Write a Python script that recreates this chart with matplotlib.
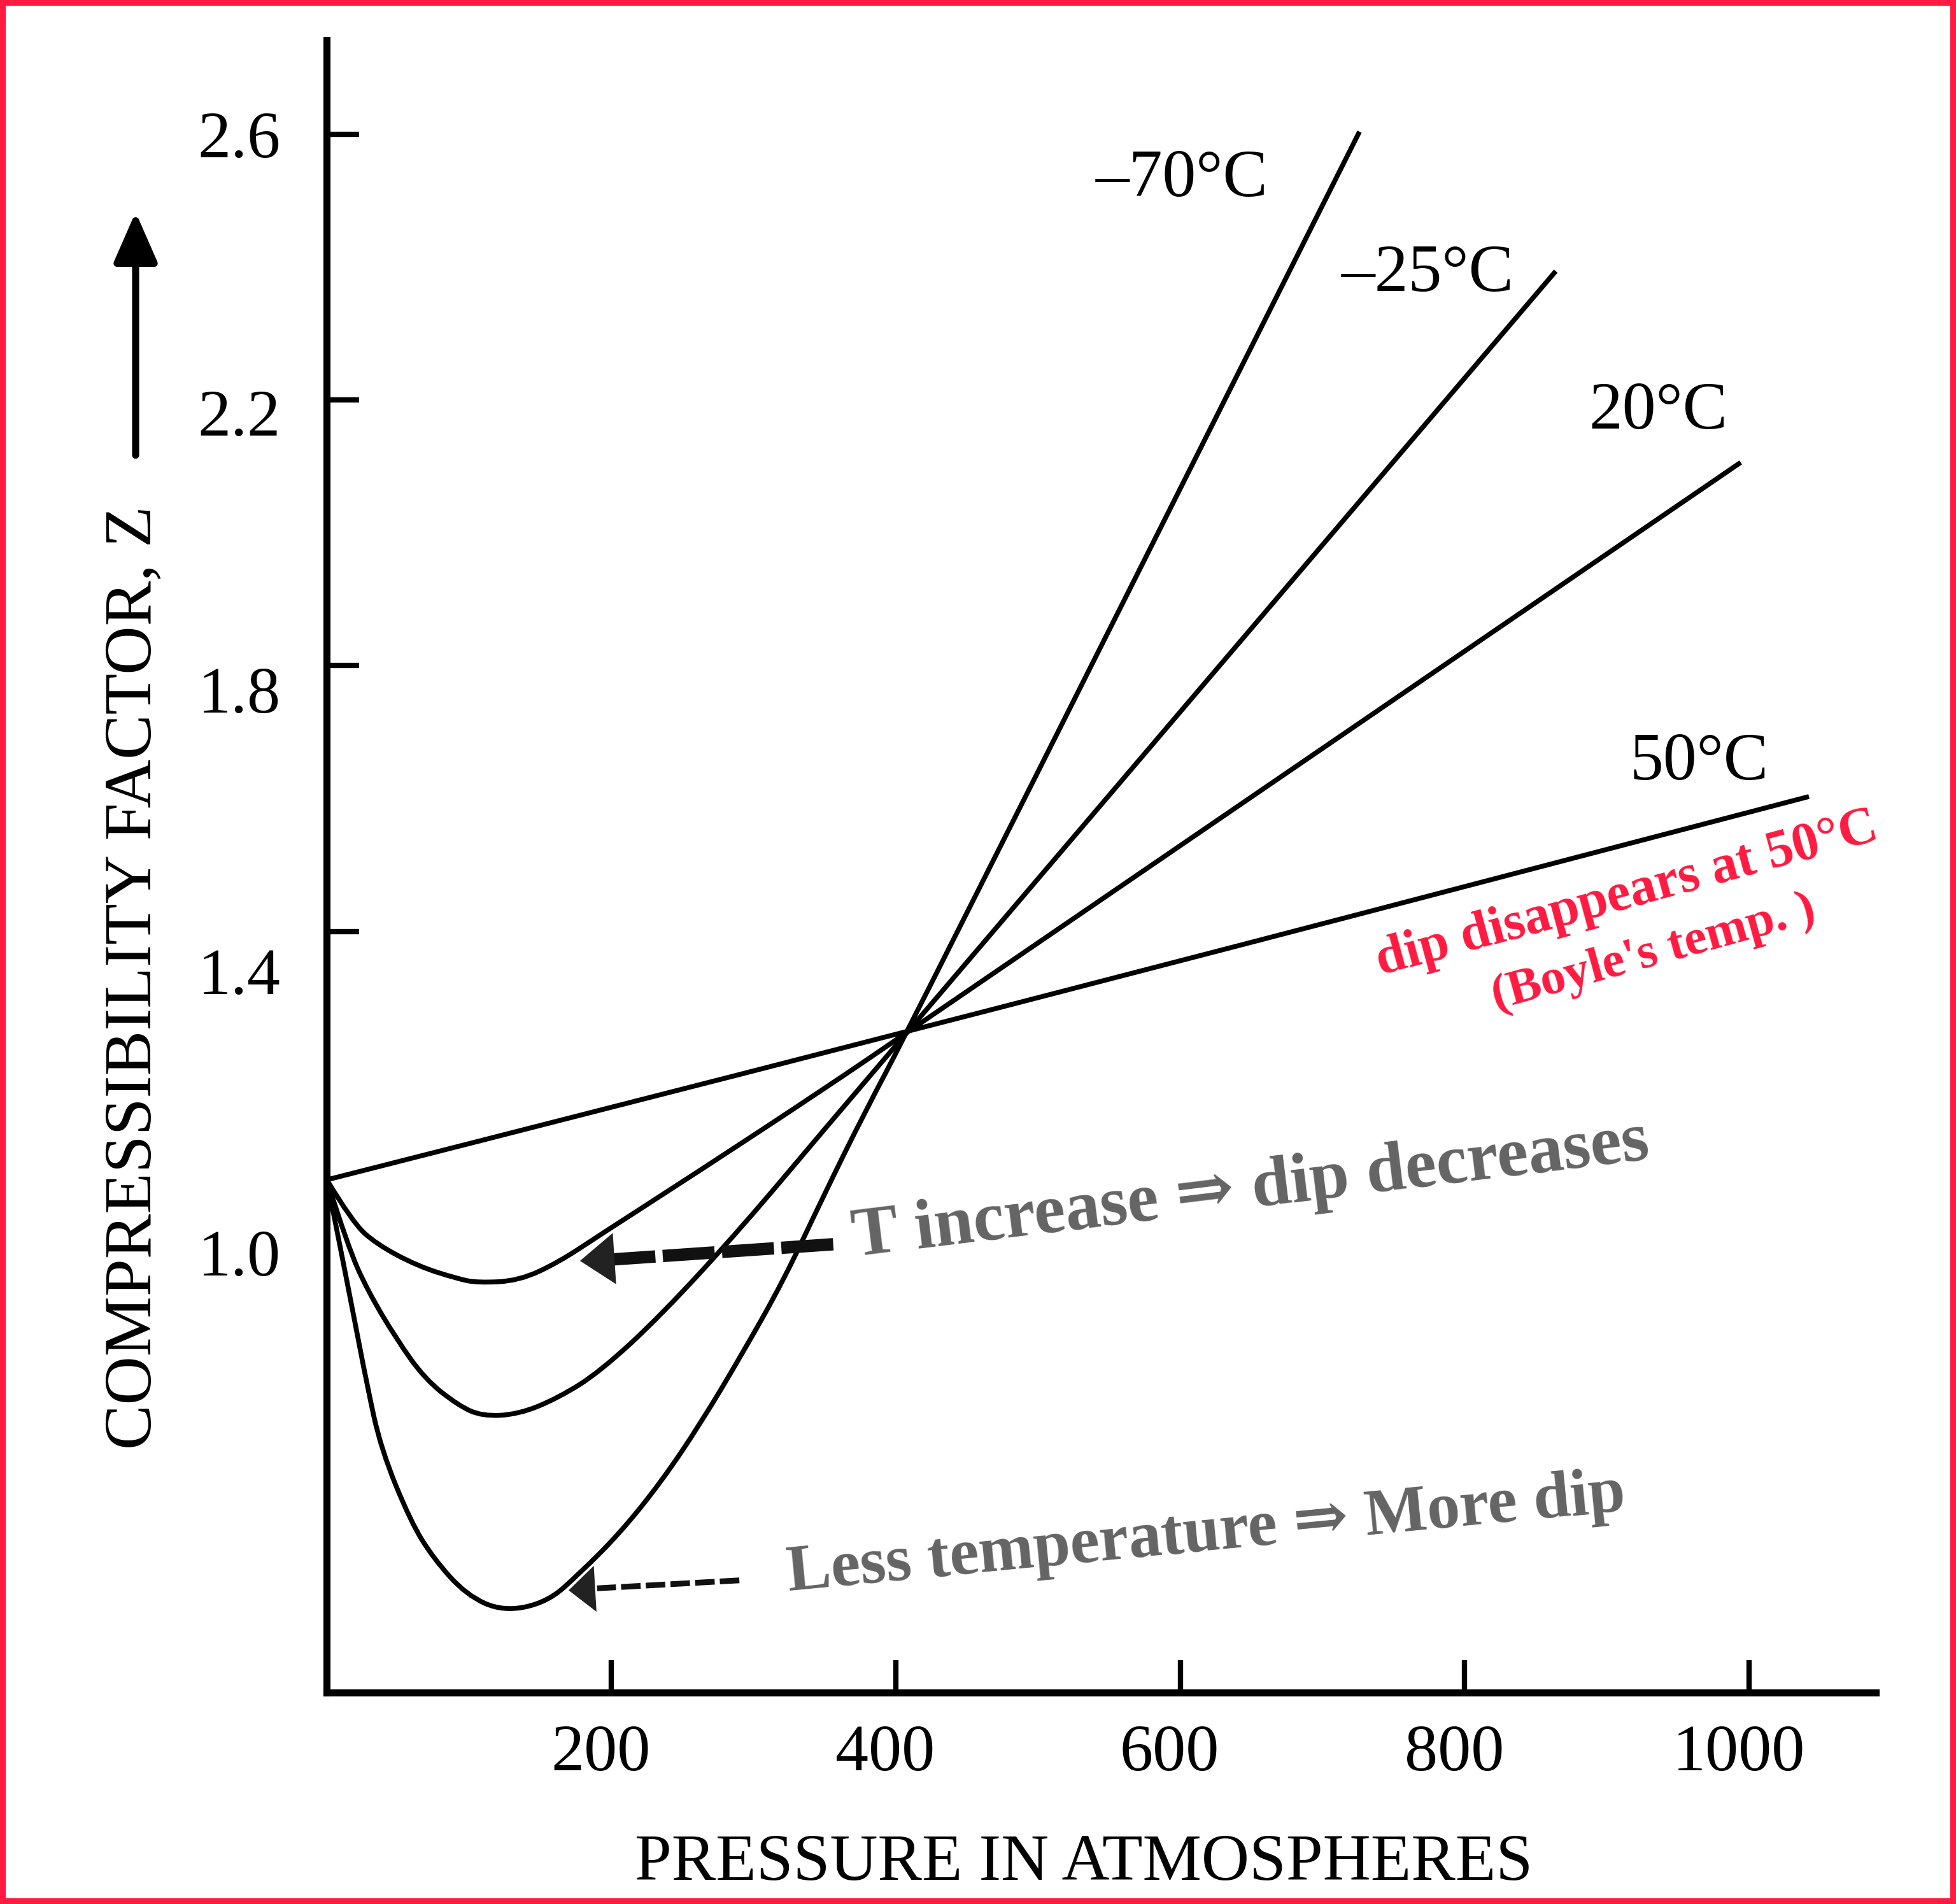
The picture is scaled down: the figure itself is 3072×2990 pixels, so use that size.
import matplotlib.pyplot as plt
from matplotlib.patches import Rectangle, PathPatch
from matplotlib.path import Path
from matplotlib.transforms import ScaledTranslation

plt.rcParams['font.family'] = ['Liberation Serif', 'DejaVu Serif']

#%% Values (pressure in atm, compressibility factor Z)

p_m70 = [0, 8, 19, 28, 38, 59, 75, 98, 124, 155, 178, 206, 235, 263, 292, 321, 349, 378, 408, 726]
z_m70 = [1.026, 0.94, 0.82, 0.72, 0.621, 0.511, 0.456, 0.401, 0.376, 0.390, 0.434, 0.494, 0.571,
         0.660, 0.764, 0.874, 1.001, 1.127, 1.248, 2.604]

p_m25 = [0, 15, 29, 49, 69, 92, 109, 135, 163, 192, 235, 292, 349, 408, 864]
z_m25 = [1.026, 0.924, 0.858, 0.786, 0.726, 0.687, 0.670, 0.673, 0.698, 0.737, 0.822, 0.955,
         1.100, 1.248, 2.394]

p_20 = [0, 18, 35, 64, 92, 106, 135, 163, 192, 263, 349, 408, 994]
z_20 = [1.026, 0.962, 0.929, 0.896, 0.877, 0.871, 0.874, 0.902, 0.943, 1.041, 1.162, 1.248, 2.106]

p_50 = [0, 408, 1042]
z_50 = [1.026, 1.248, 1.603]

curve_labels = ['\u201370\u00b0C', '\u201325\u00b0C', '20\u00b0C', '50\u00b0C']
label_p = [601, 774, 936, 965]
label_z = [2.507, 2.364, 2.157, 1.629]

xtick_vals = [200, 400, 600, 800, 1000]
ytick_vals = [1.4, 1.8, 2.2, 2.6]
# the printed labels drift down from their ticks in the scan (points)
ylabel_drop = [45, 27, 14, 0]

red = '#fe1a40'
grey = '#646464'


def smooth_curve(p, z):
    # quadratic bezier through the midpoints, read points act as control points
    verts = [(p[0], z[0])]
    codes = [Path.MOVETO]
    for i in range(1, len(p) - 1):
        verts += [(p[i], z[i]), ((p[i] + p[i + 1]) / 2, (z[i] + z[i + 1]) / 2)]
        codes += [Path.CURVE3, Path.CURVE3]
    verts.append((p[-1], z[-1]))
    codes.append(Path.LINETO)
    return Path(verts, codes)


#%% Figure

fig = plt.figure(figsize=(30.72, 29.90), dpi=100)
ax = fig.add_axes([0.1671, 0.1112, 0.7919, 0.8678])
ax.set_xlim(0, 1089)
ax.set_ylim(0.2545, 2.742)

for p, z in [(p_m70, z_m70), (p_m25, z_m25), (p_20, z_20), (p_50, z_50)]:
    ax.add_patch(PathPatch(smooth_curve(p, z), fill=False, edgecolor='black', lw=5.5,
                           joinstyle='round', capstyle='butt'))

for s, p, z in zip(curve_labels, label_p, label_z):
    ax.text(p, z, s, fontsize=76, ha='center', va='baseline')

ax.spines[['top', 'right']].set_visible(False)
for side in ['left', 'bottom']:
    ax.spines[side].set_linewidth(8)

ax.set_xticks(xtick_vals)
ax.set_xticklabels([str(v) for v in xtick_vals])
ax.set_yticks(ytick_vals)
ax.set_yticklabels(['%.1f' % v for v in ytick_vals])
ax.tick_params(direction='in', length=37, width=6, labelsize=75)
ax.tick_params(axis='y', pad=52)
ax.tick_params(axis='x', pad=36)
for lab in ax.get_xticklabels():
    lab.set_transform(lab.get_transform() + ScaledTranslation(-12 / 72, 0, fig.dpi_scale_trans))
for lab, drop in zip(ax.get_yticklabels(), ylabel_drop):
    lab.set_transform(lab.get_transform() + ScaledTranslation(0, -drop / 72, fig.dpi_scale_trans))
# the 1.0 label has no tick mark in the original and sits a little low
ax.text(-0.0296, 0.916, '1.0', transform=ax.get_yaxis_transform(), fontsize=75,
        ha='right', va='center_baseline')

# arrows pointing at the dips
ax.plot([356, 200], [0.929, 0.906], color='#111111', lw=14, linestyle=(0, (4.2, 0.6)))
ax.annotate('', xy=(178, 0.904), xytext=(356, 0.929),
            arrowprops=dict(arrowstyle='-|>,head_length=39,head_width=29', mutation_scale=1,
                            lw=0, color='#222222', shrinkA=0, shrinkB=0))
ax.plot([290, 190], [0.423, 0.411], color='#111111', lw=6.5, linestyle=(0, (3.4, 0.9)))
ax.annotate('', xy=(170, 0.408), xytext=(290, 0.423),
            arrowprops=dict(arrowstyle='-|>,head_length=30,head_width=26', mutation_scale=1,
                            lw=0, color='#222222', shrinkA=0, shrinkB=0))

note_font = dict(family=['Liberation Serif', 'DejaVu Serif'], weight='bold', ha='left',
                 va='baseline', rotation_mode='anchor')
t_inc = ax.text(371, 0.911, 'T increase \u21d2 dip decreases', color=grey, fontsize=70,
                **note_font)
t_less = ax.text(325, 0.407, 'Less temperature \u21d2 More dip', color=grey, fontsize=70,
                 **note_font)
t_dip = ax.text(741, 1.334, 'dip disappears at 50\u00b0C', color=red, fontsize=50,
                **note_font)
t_boyle = ax.text(822, 1.282, "(Boyle's temp. )", color=red, fontsize=50, **note_font)

ylab = fig.text(212 / 3072, 1 - 1535 / 2990, 'COMPRESSIBILITY FACTOR, Z', fontsize=75,
                ha='center', va='center')
xlab = fig.text(1702 / 3072, 1 - 2927 / 2990, 'PRESSURE IN ATMOSPHERES', fontsize=75,
                ha='center', va='center')

# vertical arrow beside the y label
ax.annotate('', xy=(213 / 3072, 1 - 333 / 2990), xytext=(213 / 3072, 1 - 715 / 2990),
            xycoords='figure fraction', textcoords='figure fraction',
            arrowprops=dict(arrowstyle='-|>,head_length=48,head_width=21', mutation_scale=1,
                            lw=8, color='black', shrinkA=0, shrinkB=0))

# scale the free texts to the lengths measured on the original
fig.canvas.draw()
renderer = fig.canvas.get_renderer()
for t, width, rot in [(t_inc, 1262, 7), (t_less, 1323, 5.5), (t_dip, 814, 15.2),
                      (t_boyle, 524, 15.5), (ylab, 1480, 90), (xlab, 1410, 0)]:
    w = t.get_window_extent(renderer).width
    t.set_fontsize(t.get_fontsize() * width / w)
    t.set_rotation(rot)

fig.patches.append(Rectangle((0, 0), 1, 1, transform=fig.transFigure, fill=False,
                             edgecolor=red, lw=13))

fig.savefig('out.png', dpi=100, facecolor='white')
